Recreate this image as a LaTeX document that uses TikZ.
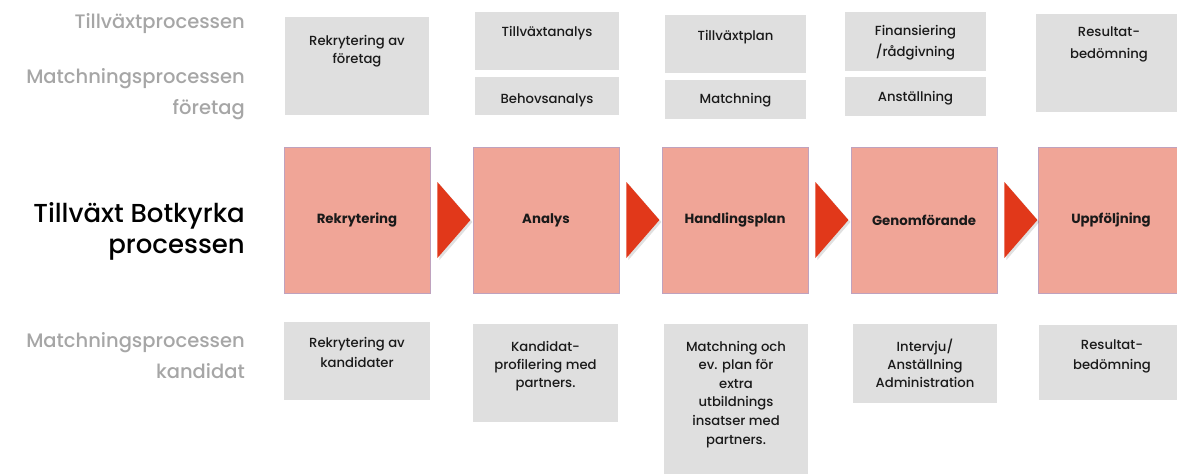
\documentclass[tikz,border=0pt]{standalone}
\usepackage{fontspec}
\setmainfont{Poppins}
\newfontfamily\popmed{Poppins Medium}
\usetikzlibrary{calc}
\definecolor{lbl}{HTML}{A6A6A6}
\definecolor{gboxc}{HTML}{DFDFDF}
\definecolor{pinkc}{HTML}{F0A597}
\definecolor{pinkline}{HTML}{BFA2BE}
\definecolor{arrred}{HTML}{E1381A}
\definecolor{txt}{HTML}{1A1A1A}
\tikzset{
  gbox/.style={fill=gboxc, draw=none, inner sep=0pt, anchor=center},
  pbox/.style={fill=pinkc, draw=pinkline, line width=0.8pt, inner sep=0pt,
    minimum width=146pt, minimum height=146pt, anchor=center, text=txt,
    font=\bfseries\fontsize{13.3}{14}\selectfont},
  btext/.style={anchor=base, align=center, inner sep=0pt, text=txt,
    font=\popmed\fontsize{13.2}{18}\selectfont},
  side/.style={anchor=base east, inner sep=0pt, text=lbl,
    font=\popmed\fontsize{19.5}{24}\selectfont},
  main/.style={anchor=base east, inner sep=0pt, text=black,
    font=\popmed\fontsize{26}{30}\selectfont},
  tri/.style={fill=arrred, draw=none}
}
\begin{document}
\begin{tikzpicture}[x=1pt,y=-1pt]
\useasboundingbox (0,0) rectangle (1177,476);
% left labels
\node[side] (l1) at (245,29) {Tillväxtprocessen};
\node[side] (l2) at (245,84) {Matchningsprocessen};
\node[side] (l3) at (245,114) {företag};
\node[main] (l4) at (245,222) {Tillväxt Botkyrka};
\node[main] (l5) at (245,253) {processen};
\node[side] (l6) at (245,347) {Matchningsprocessen};
\node[side] (l7) at (245,378) {kandidat};
% top row
\node[gbox, minimum width=144pt, minimum height=98pt] (t1) at (357,66) {};
\node[btext] (t1x) at (357,64) {Rekrytering av\\företag};
\node[gbox, minimum width=144pt, minimum height=58pt] (t2a) at (547,41) {};
\node[btext] (t2ax) at (547,37) {Tillväxtanalys};
\node[gbox, minimum width=144pt, minimum height=38pt] (t2b) at (547,96) {};
\node[btext] (t2bx) at (547,103) {Behovsanalys};
\node[gbox, minimum width=141pt, minimum height=58pt] (t3a) at (735.5,44) {};
\node[btext] (t3ax) at (735.5,41) {Tillväxtplan};
\node[gbox, minimum width=141pt, minimum height=39pt] (t3b) at (735.5,99.5) {};
\node[btext] (t3bx) at (735.5,104) {Matchning};
\node[gbox, minimum width=141pt, minimum height=59pt] (t4a) at (915.5,41.5) {};
\node[btext, font=\popmed\fontsize{13.2}{21}\selectfont] (t4ax) at (915.5,57) {Finansiering\\/rådgivning};
\node[gbox, minimum width=141pt, minimum height=39pt] (t4b) at (915.5,96.5) {};
\node[btext] (t4bx) at (915.5,102) {Anställning};
\node[gbox, minimum width=146pt, minimum height=98pt] (t5) at (1109,63) {};
\node[btext, font=\popmed\fontsize{13.2}{22}\selectfont] (t5x) at (1109,59) {Resultat-\\bedömning};
% middle row
\node[pbox] (p1) at (357,220) {Rekrytering};
\node[pbox] (p2) at (546,220) {Analys};
\node[pbox] (p3) at (735,220) {Handlingsplan};
\node[pbox] (p4) at (924,220) {Genomförande};
\node[pbox] (p5) at (1111,220) {Uppföljning};
\foreach \a/\b in {p1/a1,p2/a2,p3/a3,p4/a4}{
  \fill[black, opacity=0.12] ($(\a.east)+(9,-36)$) -- ($(\a.east)+(9,40)$) -- ($(\a.east)+(42,2)$) -- cycle;
  \fill[tri] ($(\a.east)+(7,-38)$) -- ($(\a.east)+(7,38)$) -- ($(\a.east)+(40,0)$) -- cycle;
}
% bottom row
\node[gbox, minimum width=146pt, minimum height=78pt] (b1) at (357,361) {};
\node[btext, font=\popmed\fontsize{13.2}{20}\selectfont] (b1x) at (357,367) {Rekrytering av\\kandidater};
\node[gbox, minimum width=145pt, minimum height=98pt] (b2) at (545.5,373) {};
\node[btext] (b2x) at (545.5,387) {Kandidat-\\profilering med\\partners.};
\node[gbox, minimum width=144pt, minimum height=150pt] (b3) at (736,399) {};
\node[btext, font=\popmed\fontsize{13.2}{18.6}\selectfont] (b3x) at (736,444) {Matchning och\\ev. plan för\\extra\\utbildnings\\insatser med\\partners.};
\node[gbox, minimum width=144pt, minimum height=79pt] (b4) at (925,363.5) {};
\node[btext] (b4x) at (925,387) {Intervju/\\Anställning\\Administration};
\node[gbox, minimum width=146pt, minimum height=75pt] (b5) at (1112,362.5) {};
\node[btext, font=\popmed\fontsize{13.2}{20}\selectfont] (b5x) at (1112,369) {Resultat-\\bedömning};
\end{tikzpicture}
\end{document}
